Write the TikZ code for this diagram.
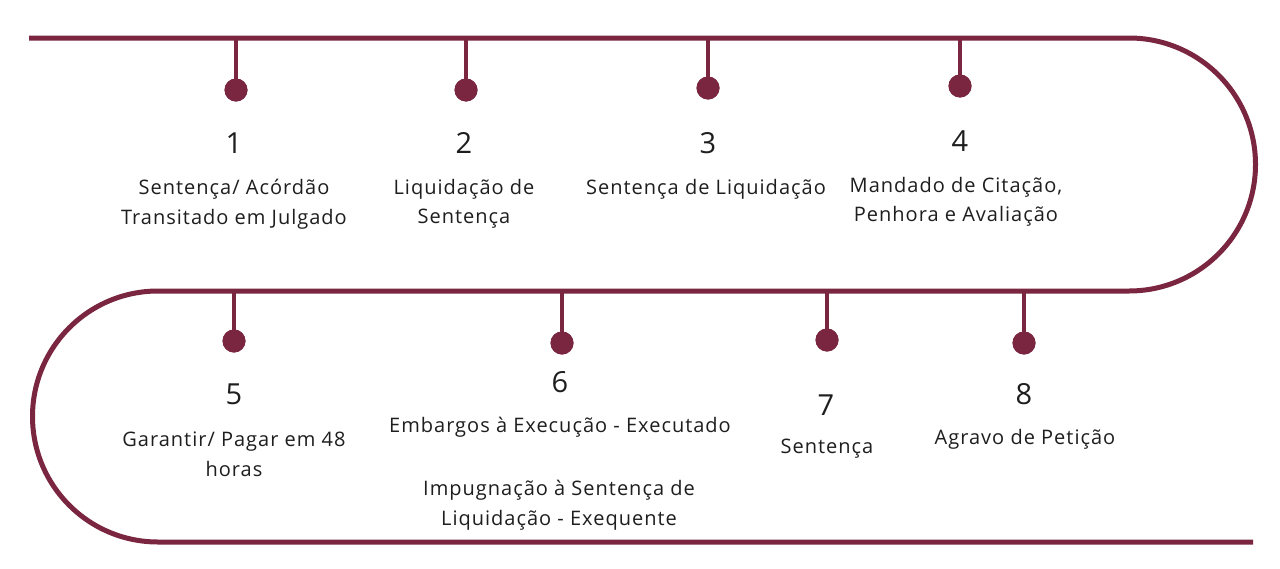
\documentclass[tikz,border=0pt]{standalone}
\usepackage{fontspec}
\setmainfont{Open Sans}
\newfontfamily\spaced[LetterSpace=5]{Open Sans}
\definecolor{wine}{RGB}{122,38,65}
\definecolor{ink}{RGB}{30,30,30}
\tikzset{
  track/.style={draw=wine,line width=5pt},
  stem/.style={draw=wine,line width=4.5pt},
  dot/.style={circle,fill=wine,draw=none,minimum size=23pt,inner sep=0pt},
  num/.style={text=ink,font=\fontsize{29}{30}\selectfont,inner sep=0pt},
  lbl/.style={text=ink,font=\spaced\fontsize{20}{29.5}\selectfont,align=center,inner sep=0pt},
}
\begin{document}
\begin{tikzpicture}[x=1pt,y=-1pt]
\useasboundingbox (0,0) rectangle (1280,568);
\fill[white] (0,0) rectangle (1280,568);
% track
\draw[track] (29,38) -- (1129,38) arc[start angle=-90,end angle=90,radius=126.5]
  -- (158,291) arc[start angle=270,end angle=90,radius=125.5] -- (1253,542);
% stems
\coordinate (t1) at (236,38); \coordinate (t2) at (466,38);
\coordinate (t3) at (708,38); \coordinate (t4) at (960,38);
\coordinate (t5) at (234,291); \coordinate (t6) at (562,291);
\coordinate (t7) at (827,291); \coordinate (t8) at (1024,291);
\node[dot] (d1) at (236,90) {};
\node[dot] (d2) at (466,90) {};
\node[dot] (d3) at (708,88) {};
\node[dot] (d4) at (960,86) {};
\node[dot] (d5) at (234,341) {};
\node[dot] (d6) at (562,343) {};
\node[dot] (d7) at (827,340) {};
\node[dot] (d8) at (1024,343) {};
\foreach \i in {1,...,8} {\draw[stem] (t\i) -- (d\i.center);}
\foreach \i in {1,...,8} {\fill[wine] (d\i) circle[radius=11.5pt];}
% numbers
\node[num] (n1) at (234,143) {1};
\node[num] (n2) at (464,143) {2};
\node[num] (n3) at (708,143) {3};
\node[num] (n4) at (960,141) {4};
\node[num] (n5) at (234,394) {5};
\node[num] (n6) at (560,382) {6};
\node[num] (n7) at (826,405) {7};
\node[num] (n8) at (1024,394) {8};
% labels
\node[lbl] (l1) at (234,204) {Sentença/ Acórdão\\Transitado em Julgado};
\node[lbl] (l2) at (464,204) {Liquidação de\\Sentença};
\node[lbl] (l3) at (706,189.5) {Sentença de Liquidação};
\node[lbl] (l4) at (956,202) {Mandado de Citação,\\Penhora e Avaliação};
\node[lbl] (l5) at (234,454.5) {Garantir/ Pagar em 48\\horas};
\node[lbl] (l6a) at (560,427) {Embargos à Execução - Executado};
\node[lbl] (l6b) at (559,505) {Impugnação à Sentença de\\Liquidação - Exequente};
\node[lbl] (l7) at (827,449) {Sentença};
\node[lbl] (l8) at (1025,439) {Agravo de Petição};
\end{tikzpicture}
\end{document}
